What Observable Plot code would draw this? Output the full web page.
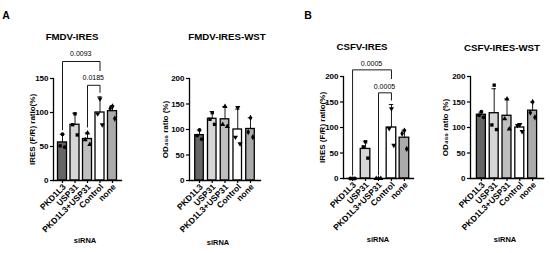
<!DOCTYPE html>
<html><head><meta charset="utf-8">
<script src="https://cdn.jsdelivr.net/npm/d3@7"></script>
<script src="https://cdn.jsdelivr.net/npm/@observablehq/plot@0.6"></script>
<style>
body{margin:0;background:#fff;}
#fig{position:relative;width:550px;height:253px;overflow:hidden;background:#fff;font-family:"Liberation Sans",Arial,sans-serif;}
#fig svg{position:absolute;top:0;}
.t{position:absolute;transform:translate(-50%,-50%);white-space:nowrap;font-weight:bold;color:#000;line-height:1;}
</style></head><body><div id="fig"></div>
<script>
// ---- data ----
const categories = ["PKD1L3", "USP31", "PKD1L3+USP31", "Control", "none"];
const barFills = ["#666666", "#d6d6d6", "#bfbfbf", "#ffffff", "#aaaaaa"];
const panelLetters = ["A", "B"];
const panelTitles = ["FMDV-IRES", "FMDV-IRES-WST", "CSFV-IRES", "CSFV-IRES-WST"];
const yLabels = ["IRES (F/R) ratio(%)", "OD\u2084\u2085\u2080 ratio (%)", "IRES (F/R) ratio(%)", "OD\u2084\u2085\u2080 ratio (%)"];
const xLabel = "siRNA";
const ticks150 = [0, 50, 100, 150];
const ticks200 = [0, 50, 100, 150, 200];

// FMDV-IRES
const fmdvIresMean = [56, 82, 61, 100, 102];
const fmdvIresSD = [12, 17, 9, 23, 8];
const fmdvIresPoints = [[68, 51, 49], [98, 82, 67], [70, 60, 53], [120, 98, 82], [109, 106, 91]];
const fmdvIresBrackets = [
  {from: "PKD1L3", to: "Control", p: "0.0093", top: 175, leftEnd: 74, rightEnd: 161, textY: 187},
  {from: "PKD1L3+USP31", to: "Control", p: "0.0185", top: 140, leftEnd: 78, rightEnd: 129, textY: 151}
];
// FMDV-IRES-WST
const fmdvWstMean = [89, 121, 120, 100, 101];
const fmdvWstSD = [10, 14, 25, 40, 22];
const fmdvWstPoints = [[99, 88, 81], [133, 120, 110], [145, 110, 106], [143, 85, 72], [123, 95, 85]];
// CSFV-IRES
const csfvIresMean = [0, 58, 0, 100, 80];
const csfvIresSD = [0, 15, 0, 45, 15];
const csfvIresPoints = [[0, 0, 0], [72, 62, 40], [0, 0, 0], [137, 98, 65], [94, 88, 58]];
const csfvIresBrackets = [
  {from: "PKD1L3", to: "Control", p: "0.0005", top: 213, leftEnd: 6, rightEnd: 195, textY: 225},
  {from: "PKD1L3+USP31", to: "Control", p: "0.0005", top: 168, leftEnd: 6, rightEnd: 153, textY: 181}
];
// CSFV-IRES-WST
const csfvWstMean = [125, 128, 123, 100, 133];
const csfvWstSD = [5, 48, 33, 7, 17];
const csfvWstPoints = [[131, 124, 120], [183, 105, 96], [156, 117, 97], [106, 104, 92], [150, 129, 120]];

// ---- layout ----
const panels = [
  {mean: fmdvIresMean, sd: fmdvIresSD, points: fmdvIresPoints, brackets: fmdvIresBrackets, yMax: 150, ticks: ticks150,
   left: 0, width: 135, ml: 53, mr: 14, mt: 78, mb: 73, pi: 0.28, po: 0.36, lo: 24, title: [72, 37], xl: [85, 241]},
  {mean: fmdvWstMean, sd: fmdvWstSD, points: fmdvWstPoints, brackets: [], yMax: 200, ticks: ticks200,
   left: 135, width: 135, ml: 54, mr: 10, mt: 78, mb: 73, pi: 0.33, po: 0.45, lo: 27, title: [227, 37], xl: [218, 243]},
  {mean: csfvIresMean, sd: csfvIresSD, points: csfvIresPoints, brackets: csfvIresBrackets, yMax: 200, ticks: ticks200,
   left: 275, width: 140, ml: 68, mr: 2, mt: 76, mb: 75, pi: 0.26, po: 0.33, lo: 24, title: [362, 47], xl: [378, 240]},
  {mean: csfvWstMean, sd: csfvWstSD, points: csfvWstPoints, brackets: [], yMax: 200, ticks: ticks200,
   left: 415, width: 135, ml: 55, mr: 7, mt: 76, mb: 75, pi: 0.3, po: 0.5, lo: 28, title: [502, 48], xl: [505, 240]}
];
const letterPos = [[6, 15], [308, 15]];

const triangleDown = {
  draw(context, size) {
    const y = -Math.sqrt(size / (Math.sqrt(3) * 3));
    context.moveTo(0, -y * 2);
    context.lineTo(-Math.sqrt(3) * y, y);
    context.lineTo(Math.sqrt(3) * y, y);
    context.closePath();
  }
};
const symbols = ["circle", "square", "triangle", triangleDown, "diamond"];
const jitter = [0, -2.3, 2.3];

const fig = document.getElementById("fig");

function addText(txt, x, y, size, weight) {
  const d = document.createElement("div");
  d.className = "t";
  d.style.left = x + "px";
  d.style.top = y + "px";
  d.style.fontSize = size + "px";
  if (weight) d.style.fontWeight = weight;
  d.textContent = txt;
  fig.appendChild(d);
}

panels.forEach((p, k) => {
  const rows = categories.map((c, i) => ({cat: c, mean: p.mean[i], top: p.mean[i] + p.sd[i], fill: barFills[i]}));
  const pts = categories.flatMap((c, i) => p.points[i].map((v, j) => ({cat: c, v, i, j})));
  const xOpts = {type: "band", domain: categories, range: [p.ml, p.width - p.mr], paddingInner: p.pi, paddingOuter: p.po, align: 0.5, round: false};
  const xs = Plot.scale({x: xOpts});
  const ys = Plot.scale({y: {type: "linear", domain: [0, p.yMax], range: [253 - p.mb, p.mt]}});
  const center = (c) => xs.apply(c) + xs.bandwidth / 2;
  const capInset = Math.max(0, (xs.bandwidth - 4.5) / 2);
  const segs = p.brackets.flatMap(b => [
    {x1: b.from, x2: b.from, y1: b.leftEnd, y2: b.top},
    {x1: b.from, x2: b.to, y1: b.top, y2: b.top},
    {x1: b.to, x2: b.to, y1: b.top, y2: b.rightEnd}
  ]);
  const dotMarks = [];
  categories.forEach((c, i) => {
    jitter.forEach((dx, j) => {
      dotMarks.push(Plot.dot(pts.filter(d => d.i === i && d.j === j), {x: "cat", y: "v", dx, symbol: symbols[i], r: 1.9, fill: "#000", stroke: "none"}));
    });
  });
  const svg = Plot.plot({
    width: p.width, height: 253,
    marginLeft: p.ml, marginRight: p.mr, marginTop: p.mt, marginBottom: p.mb,
    style: {fontFamily: "'Liberation Sans', Arial, sans-serif", fontSize: "8px", fontWeight: "bold", background: "transparent", overflow: "visible", color: "#000"},
    x: xOpts,
    y: {domain: [0, p.yMax]},
    color: {type: "identity"},
    marks: [
      Plot.barY(rows, {x: "cat", y: "mean", fill: "fill", stroke: "#000", strokeWidth: 1.3}),
      Plot.ruleX(rows, {x: "cat", y1: "mean", y2: "top", stroke: "#000", strokeWidth: 0.9}),
      Plot.tickY(rows, {x: "cat", y: "top", insetLeft: capInset, insetRight: capInset, stroke: "#000", strokeWidth: 0.9}),
      ...dotMarks,
      Plot.link(segs, {x1: "x1", x2: "x2", y1: "y1", y2: "y2", stroke: "#000", strokeWidth: 0.9}),
      Plot.frame({anchor: "left", stroke: "#000", strokeWidth: 1.3}),
      Plot.frame({anchor: "bottom", stroke: "#000", strokeWidth: 1.3}),
      Plot.axisY({ticks: p.ticks, tickSize: 3, tickPadding: 2, label: yLabels[k], labelAnchor: "center", labelOffset: p.lo, labelArrow: false, strokeWidth: 1.2}),
      Plot.axisX({ticks: categories, tickSize: 3, text: null, label: null, strokeWidth: 1.2}),
      Plot.text(categories, {x: d => d, frameAnchor: "bottom", dy: 5, dx: 2, rotate: -45, textAnchor: "end", lineAnchor: "middle", fontSize: 8.5, fill: "#000"})
    ]
  });
  svg.style.left = p.left + "px";
  fig.appendChild(svg);
  p.brackets.forEach(b => addText(b.p, p.left + (center(b.from) + center(b.to)) / 2, ys.apply(b.textY), 7, "normal"));
  addText(panelTitles[k], p.title[0], p.title[1], 9.7);
  addText(xLabel, p.xl[0], p.xl[1], 7.5);
});
panelLetters.forEach((L, i) => addText(L, letterPos[i][0], letterPos[i][1], 10.5));
</script></body></html>
